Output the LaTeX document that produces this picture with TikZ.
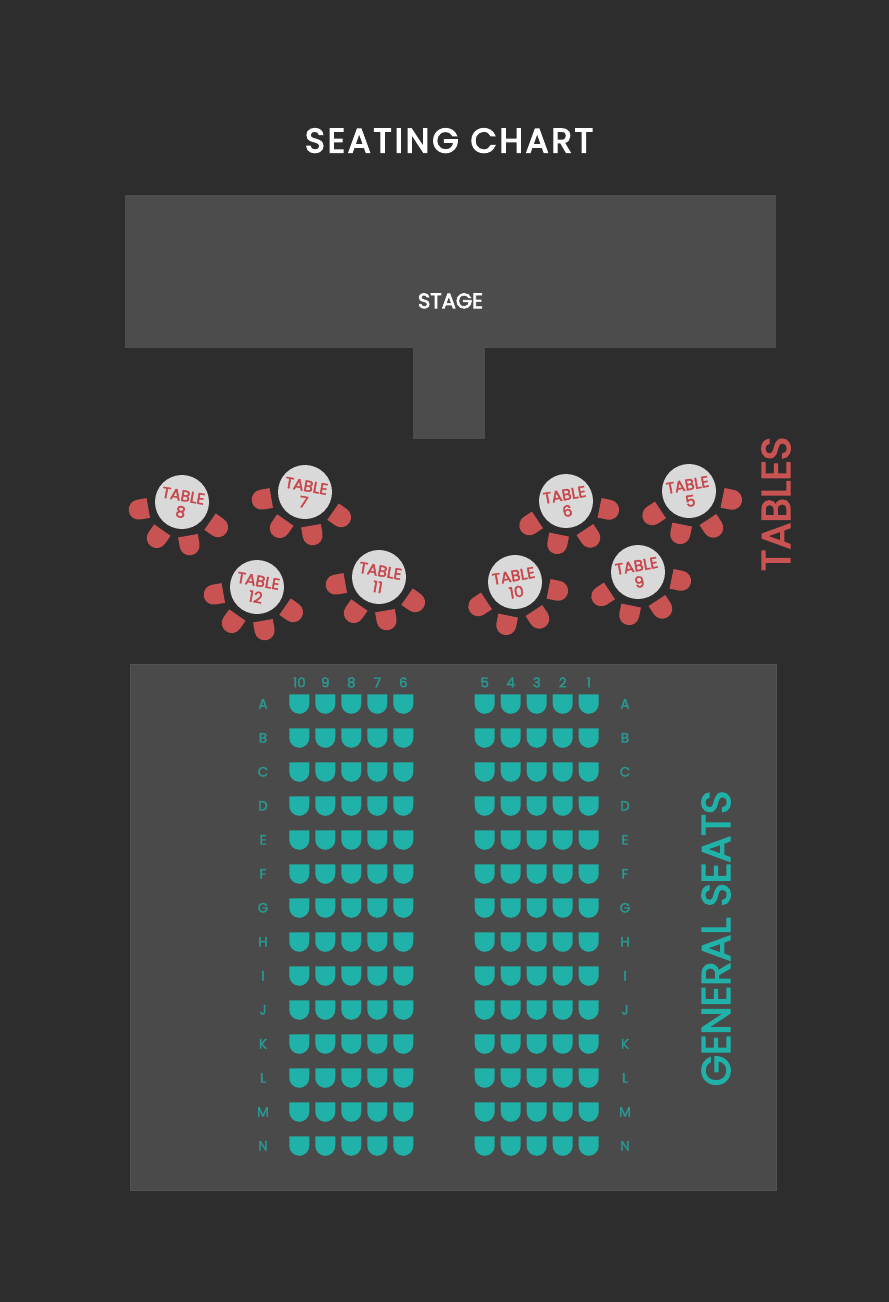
\documentclass[tikz,border=0pt]{standalone}
\usepackage{fontspec}
\setmainfont{Poppins}
\newfontfamily\fmed{Poppins}[FakeBold=2.5]
\newfontfamily\fbig{Poppins}[FakeBold=3.2]
\newfontfamily\ftitle{Poppins}[FakeBold=3.6, LetterSpace=8]
\usetikzlibrary{calc}
\definecolor{bgc}{HTML}{2D2D2D}
\definecolor{stagec}{HTML}{4C4C4C}
\definecolor{areac}{HTML}{4A4A4A}
\definecolor{areaedge}{HTML}{535353}
\definecolor{seatc}{HTML}{20B2A8}
\definecolor{labc}{HTML}{2A9790}
\definecolor{chairc}{HTML}{C95252}
\definecolor{tablec}{HTML}{D9D9D9}
\definecolor{tabtext}{HTML}{C8474C}
\newcommand\tablegrp[6]{%
  \node[tablecirc] (t#1) at (#2,-#3) {};
  \foreach \a [evaluate=\a as \b using \a+(#4)] in {202.5,247.5,292.5,337.5} {
    \pic[rotate=\b+90] at ($(t#1)+(\b:44)$) {chair};
  }
  \node[tabtxt, rotate=#5] (tl#1) at ($(t#1)+(0,-2)$) {TABLE\\#6};
}
\begin{document}
\begin{tikzpicture}[x=1pt,y=1pt,
  tseat/.pic={\fill[seatc] (-10,9.5) -- (10,9.5) -- (10,0) arc[start angle=0,end angle=-180,radius=10] -- cycle;},
  chair/.pic={\fill[chairc] (-10,9.75) -- (10,9.75) -- (10,0) arc[start angle=0,end angle=-180,radius=10] -- cycle;},
  tablecirc/.style={circle, fill=tablec, minimum size=54pt, inner sep=0pt},
  tabtxt/.style={text=tabtext, align=center, font=\fmed\fontsize{15.5}{16.5}\selectfont, inner sep=0pt},
  lab/.style={text=labc, anchor=base, inner sep=0pt, font=\fmed\fontsize{13.5}{14}\selectfont},
  big/.style={anchor=base, inner sep=0pt, rotate=90, font=\fbig\fontsize{40}{44}\selectfont}
]
\useasboundingbox (0,0) rectangle (889,-1302);
\fill[bgc] (0,0) rectangle (889,-1302);
% title
\node[anchor=base, inner sep=0pt, text=white, font=\ftitle\fontsize{34}{36}\selectfont] (title) at (449,-152.5) {SEATING CHART};
% stage
\fill[stagec] (125,-195) rectangle (776,-348);
\fill[stagec] (412.5,-347) rectangle (484.5,-439);
\node[anchor=base, inner sep=0pt, text=white, font=\fbig\fontsize{21}{22}\selectfont] (stage) at (450.5,-308.2) {STAGE};
% tables
\tablegrp{8}{182}{502}{-12.5}{-10}{8}
\tablegrp{7}{305}{492}{-12.5}{-10}{7}
\tablegrp{12}{257}{587}{-12.5}{-10}{12}
\tablegrp{11}{379}{577}{-12.5}{-10}{11}
\tablegrp{6}{566}{501}{11}{10}{6}
\tablegrp{5}{689}{491}{11}{10}{5}
\tablegrp{10}{515}{582}{11}{10}{10}
\tablegrp{9}{638}{572}{11}{10}{9}
\node[big, text=chairc] (tables) at (790,-504) {TABLES};
% general seats area
\filldraw[fill=areac, draw=areaedge, line width=0.8pt] (130,-664) rectangle (776,-1190);
\foreach \n [count=\i from 0] in {10,9,8,7,6} {
  \node[lab] (cl\n) at (299.3+26*\i,-687.3) {\n};
}
\foreach \n [count=\i from 0] in {5,4,3,2,1} {
  \node[lab] (cr\n) at (484.7+26*\i,-687.3) {\n};
}
\foreach \r [count=\k from 0] in {A,B,C,D,E,F,G,H,I,J,K,L,M,N} {
  \node[lab] (rl\r) at (263,-708.5-34*\k) {\r};
  \node[lab] (rr\r) at (625,-708.5-34*\k) {\r};
  \foreach \i in {0,...,4} {
    \pic at (299.3+26*\i,-703.8-34*\k) {tseat};
    \pic at (484.7+26*\i,-703.8-34*\k) {tseat};
  }
}
\node[big, text=seatc] (gen) at (730,-938.4) {GENERAL SEATS};
\end{tikzpicture}
\end{document}
